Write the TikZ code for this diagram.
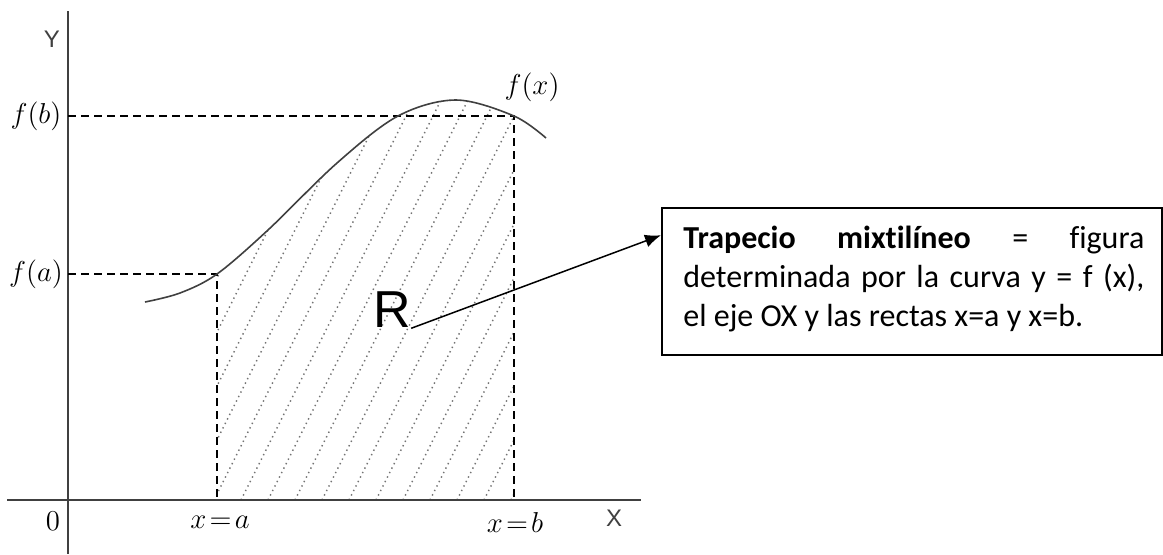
\documentclass[tikz,border=0pt]{standalone}
\usepackage{fontspec}
\setmainfont{Carlito}[Ligatures=NoCommon]
\newfontfamily\arialfont{Liberation Sans}
\usetikzlibrary{arrows.meta,calc,positioning}
\definecolor{AxisClr}{rgb}{0.25,0.25,0.25}
\definecolor{HatchClr}{rgb}{0.45,0.45,0.45}
\newcommand\fcurve{plot[smooth,tension=0.55] coordinates {(145,302) (180,293) (217,274) (268,230) (337,163) (398,116) (456,100) (514,116) (546,138)}}

\begin{document}
\begin{tikzpicture}[x=0.5pt,y=-0.5pt,
  axis/.style={line width=1pt,color=AxisClr},
  guide/.style={line width=0.6pt,dash pattern=on 4pt off 2.5pt},
  hatch/.style={line width=0.7pt,color=HatchClr,dash pattern=on 0.7pt off 1.8pt},
  mlabel/.style={font=\fontsize{14}{16}\selectfont},
  alabel/.style={font=\arialfont\fontsize{12}{14}\selectfont,text=AxisClr}]
\useasboundingbox (0,0) rectangle (1163,554);

\coordinate (Xs) at (7,500);   \coordinate (Xe) at (641,500);
\coordinate (Yt) at (68,11);   \coordinate (Yb) at (68,554);
\coordinate (A) at (217,500);  \coordinate (B) at (514,500);
\coordinate (FA) at (217,274); \coordinate (FB) at (514,116);
\coordinate (YA) at (68,274);  \coordinate (YB) at (68,116);

% region R
\begin{scope}
\clip (217,0) rectangle (514,500);
\clip \fcurve -- (546,500) -- (145,500) -- cycle;
\foreach \i in {-8,...,11} \draw[hatch] (241+\i*27,500) -- ++(200,-400);
\end{scope}

\draw[axis] (Xs) -- (Xe);
\draw[axis] (Yt) -- (Yb);
\draw[guide] (YA) -- (FA) -- (A);
\draw[guide] (YB) -- (FB) -- (B);
\draw[line width=0.8pt,color=AxisClr] \fcurve;

\node[alabel] (ylbl) at (52,39) {Y};
\node[alabel] (xlbl) at (614,518) {X};
\node[mlabel] (zero) at (53,521) {$0$};
\node[mlabel] (lfa) at (36,274) {$f(a)$};
\node[mlabel] (lfb) at (36,116) {$f(b)$};
\node[mlabel] (lfx) at (532,87) {$f(x)$};
\node[mlabel] (lxa) at (220,522) {$x\mkern2mu{=}\mkern2mu a$};
\node[mlabel] (lxb) at (515,522) {$x\mkern2mu{=}\mkern2mu b$};
\node[font=\arialfont\fontsize{26}{28}\selectfont,inner sep=0pt] (R) at (392,310) {R};

\node[draw,line width=0.75pt,minimum width=250pt,minimum height=73.5pt,anchor=north west,inner sep=0pt] (box) at (661,207) {};
\node[anchor=north west,text width=230.5pt,align=justify,inner sep=0pt,font=\fontsize{16}{19.5}\selectfont] (note) at ($(box.north west)+(22,15)$)
  {\rule{0pt}{13pt}\textbf{Trapecio mixtilíneo} = figura\linebreak determinada por la curva y = f (x),\linebreak el eje OX y las rectas x=a y x=b.};
\coordinate (tip) at ($(box.north west)!0.19!(box.south west)$);
\draw[-{Latex[length=8pt,width=6.5pt]},line width=0.75pt] (R.south east) -- (tip);
\end{tikzpicture}
\end{document}
